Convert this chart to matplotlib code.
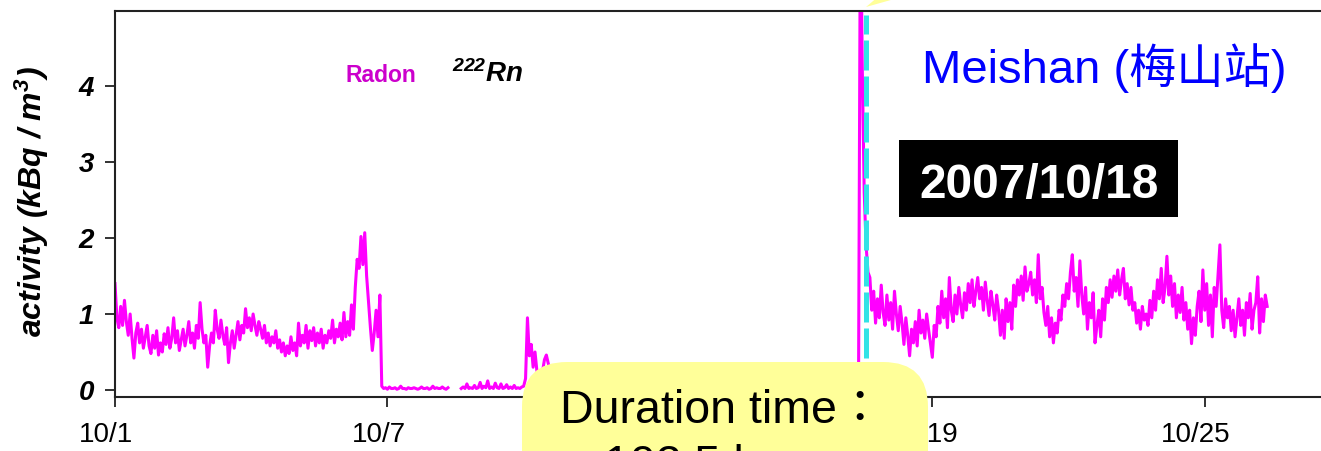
import numpy as np
import matplotlib
matplotlib.use("Agg")
import matplotlib.pyplot as plt
import matplotlib.transforms as mtransforms
from matplotlib.patches import FancyBboxPatch, Polygon, Rectangle

# hourly 222Rn activity (kBq/m3), Meishan station, Oct 2007
seg1_start = 0      # hour since 10/1 00:00
seg1_vals = [
    1.40, 0.95, 0.82, 1.10, 0.85, 1.18, 0.90, 0.72, 1.00, 0.68,
    0.42, 0.75, 0.88, 0.62, 0.80, 0.55, 0.70, 0.85, 0.58, 0.48,
    0.72, 0.55, 0.78, 0.46, 0.62, 0.50, 0.74, 0.60, 0.82, 0.55,
    0.68, 0.95, 0.62, 0.78, 0.52, 0.66, 0.80, 0.58, 0.72, 0.90,
    0.62, 0.75, 0.55, 0.85, 0.68, 1.15, 0.80, 0.62, 0.72, 0.30,
    0.58, 0.75, 0.62, 1.05, 0.80, 0.68, 0.92, 0.72, 0.60, 0.82,
    0.36, 0.62, 0.78, 0.55, 0.72, 0.90, 0.66, 0.85, 0.75, 1.07,
    0.82, 0.95, 0.78, 1.00, 0.85, 0.72, 0.90, 0.80, 0.68, 0.85,
    0.62, 0.75, 0.58, 0.70, 0.62, 0.78, 0.55, 0.66, 0.50, 0.62,
    0.45, 0.58, 0.48, 0.70, 0.52, 0.62, 0.45, 0.88, 0.58, 0.72,
    0.62, 0.85, 0.55, 0.78, 0.65, 0.82, 0.58, 0.75, 0.62, 0.80,
    0.55, 0.72, 0.62, 0.78, 0.68, 0.92, 0.62, 0.80, 0.70, 0.88,
    0.66, 1.02, 0.70, 0.90, 0.72, 1.12, 0.80, 1.35, 1.72, 1.60,
    2.02, 1.65, 2.07, 1.50, 1.15, 0.82, 0.52, 0.75, 1.05, 0.70,
    1.25,
    0.05, 0.02, 0.03, 0.01, 0.04, 0.02, 0.02, 0.03, 0.01, 0.02,
    0.05, 0.02, 0.02, 0.01, 0.03, 0.02, 0.02, 0.03, 0.02, 0.01,
    0.02, 0.04, 0.02, 0.02, 0.03, 0.01, 0.02, 0.05, 0.02, 0.03,
    0.02, 0.02, 0.04, 0.02, 0.01, 0.03,
]
seg2_start = 183
seg2_vals = [
    0.02, 0.04, 0.02, 0.08, 0.02, 0.03, 0.02, 0.06, 0.02, 0.03,
    0.10, 0.02, 0.05, 0.03, 0.12, 0.02, 0.04, 0.02, 0.09, 0.03,
    0.02, 0.08, 0.02, 0.03, 0.07, 0.02, 0.04, 0.02, 0.06, 0.02,
    0.03, 0.02, 0.04, 0.05,
    0.15, 0.95, 0.45, 0.60, 0.30, 0.50, 0.25, 0.20, 0.18, 0.25,
    0.40, 0.46, 0.35, 0.28, 0.22, 0.15,
]
seg3_start = 393
seg3_vals = [
    0.05, 6.50, 4.20, 2.60, 1.90, 1.55,
    1.48, 1.05, 1.30, 0.88, 1.20, 0.95, 1.38, 1.02, 0.85, 1.25,
    0.92, 1.15, 0.80, 1.30, 1.00, 0.78, 1.10, 0.88, 0.60, 0.95,
    0.72, 0.45, 0.80, 0.62, 0.90, 0.58, 1.05, 0.75, 0.92, 0.68,
    1.00, 0.80, 0.62, 0.43, 0.85, 0.70, 1.10, 0.88, 1.30, 0.95,
    1.20, 0.82, 1.48, 1.05, 0.90, 1.25, 1.00, 1.35, 1.12, 0.95,
    1.28, 1.05, 1.40, 1.15, 1.45, 1.10, 1.30, 1.48, 1.20, 1.35,
    1.05, 1.42, 1.18, 0.98, 1.30, 1.12, 0.92, 1.25, 1.05, 0.72,
    1.05, 0.68, 1.20, 0.90, 1.15, 0.80, 1.38, 1.10, 1.45, 1.25,
    1.50, 1.18, 1.62, 1.30, 1.40, 1.55, 1.25, 1.45, 1.15, 1.78,
    1.20, 1.35, 1.02, 0.85, 1.10, 0.70, 0.95, 0.62, 0.88, 0.75,
    1.05, 0.92, 1.25, 1.10, 1.40, 1.20, 1.55, 1.78, 1.30, 1.48,
    1.10, 1.70, 1.25, 1.00, 1.35, 0.80, 1.15, 0.95, 1.28, 0.62,
    0.85, 1.05, 0.70, 1.20, 0.92, 1.35, 1.15, 1.45, 1.22, 1.50,
    1.30, 1.58, 1.25, 1.45, 1.60, 1.20, 1.40, 1.12, 1.35, 1.05,
    1.15, 0.88, 1.05, 0.80, 1.10, 0.92, 1.00, 0.85, 1.18, 0.95,
    1.30, 1.05, 1.45, 1.20, 1.60, 1.15, 1.35, 1.76, 1.25, 1.50,
    1.10, 1.40, 0.95, 1.25, 1.02, 1.35, 0.92, 1.15, 0.80, 1.05,
    0.61, 0.95, 0.72, 1.10, 1.30, 0.90, 1.58, 1.05, 1.40, 0.85,
    1.25, 0.70, 1.35, 1.10, 1.50, 1.91, 1.05, 0.82, 1.20, 0.95,
    1.10, 0.78, 1.05, 0.70, 0.95, 1.20, 0.85, 1.05, 0.72, 1.15,
    0.95, 1.27, 0.80, 1.05, 1.15, 1.49, 0.75, 1.20, 0.90, 1.25,
    1.10,
]

event_day = 16.53   # 2007/10/18 event marker
tick_days = [0, 6, 12, 18, 24]
tick_labels = ["10/1", "10/7", "10/13", "10/19", "10/25"]

plt.rcParams["mathtext.fontset"] = "custom"
plt.rcParams["mathtext.rm"] = "Liberation Sans:bold:italic"
plt.rcParams["mathtext.it"] = "Liberation Sans:bold:italic"
plt.rcParams["mathtext.bf"] = "Liberation Sans:bold:italic"
plt.rcParams["font.family"] = ["Liberation Sans", "Noto Sans CJK TC"]

t, v = [], []
for start, vals in [(seg1_start, seg1_vals), (seg2_start, seg2_vals), (seg3_start, seg3_vals)]:
    t += list((start + np.arange(len(vals))) / 24.0) + [np.nan]
    v += list(vals) + [np.nan]

W, H = 1321, 451
fig = plt.figure(figsize=(W / 100, H / 100), dpi=100)
ax = fig.add_axes([115 / W, 54 / H, (W - 115) / W, 386 / H])

ax.plot(t, v, color="#FF00FF", lw=2.2, zorder=2)
ax.plot([event_day, event_day], [-0.05, 4.93], color="#33E3E6", lw=3.6,
        dashes=(6, 1.2), zorder=3)

ax.set_xlim(0, 26.56)
ax.set_ylim(-0.092, 4.987)
ax.set_xticks(tick_days)
ax.set_xticklabels(tick_labels)
ax.set_yticks([0, 1, 2, 3, 4])
ax.tick_params(axis="both", direction="out", length=7.2, width=1.3, color="#222222")
ax.tick_params(axis="x", labelsize=20, pad=11)
ax.tick_params(axis="y", labelsize=20, pad=8)
for lab in ax.get_yticklabels():
    lab.set_fontweight("bold")
    lab.set_fontstyle("italic")
shift = mtransforms.ScaledTranslation(-9 / 100, 0, fig.dpi_scale_trans)
for lab in ax.get_xticklabels():
    lab.set_transform(lab.get_transform() + shift)

for side in ["top", "left", "bottom"]:
    ax.spines[side].set_linewidth(1.5)
    ax.spines[side].set_color("#222222")
ax.spines["right"].set_visible(False)

ax.set_ylabel(r"activity (kBq / m$^3$)", fontsize=23, fontweight="bold",
              fontstyle="italic")
ax.yaxis.set_label_coords(-83.5 / 1206, 0.505)
ax.yaxis.label.set_verticalalignment("center")

ax.text(5.07, 4.05, "Radon", color="#CC00CC", fontsize=16.5, fontweight="bold",
        va="baseline", ha="left")
ax.text(7.42, 4.05, r"$^{222}$Rn", color="black", fontsize=20, fontweight="bold",
        fontstyle="italic", va="baseline", ha="left")
ax.text(17.78, 4.04, "Meishan (梅山站)", color="#0000FF", fontsize=34,
        va="baseline", ha="left")

ax.add_patch(Rectangle((17.27, 2.276), 6.14, 1.014, facecolor="black",
                       edgecolor="none", zorder=4))
ax.text(20.34, 2.53, "2007/10/18", color="white", fontsize=34.5, fontweight="bold",
        ha="center", va="baseline", zorder=5)

# callout boxes over the plot, laid out in pixels
px = mtransforms.IdentityTransform()
yellow = "#FFFF99"
fig.add_artist(FancyBboxPatch((522, -80), 406, 169,
                              boxstyle="round,pad=0,rounding_size=45",
                              facecolor=yellow, edgecolor="none",
                              transform=px, zorder=5))
fig.add_artist(Polygon([(866, H - 7), (879, H + 4), (905, H + 4)], closed=True,
                       facecolor=yellow, edgecolor="none", transform=px, zorder=5))
fig.text(560 / W, 1 - 423 / H, "Duration time：", fontsize=33.5, color="black",
         ha="left", va="baseline", zorder=6)
fig.text(604 / W, 1 - 478 / H, "102.5 hr", fontsize=33.5, color="black",
         ha="left", va="baseline", zorder=6)

fig.savefig("out.png", dpi=100)
